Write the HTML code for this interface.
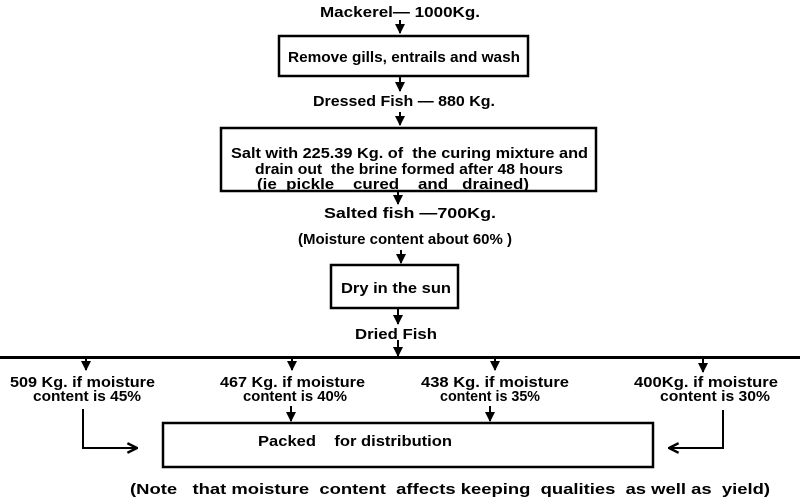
<!DOCTYPE html>
<html><head><meta charset="utf-8"><style>
html,body{margin:0;padding:0;background:#fff;}
svg{display:block}
text{font-family:"Liberation Sans",sans-serif;font-weight:bold;font-size:15px;fill:#000;white-space:pre;}
</style></head><body>
<svg width="800" height="501" viewBox="0 0 800 501" xmlns="http://www.w3.org/2000/svg" xml:space="preserve">
<defs>
<marker id="a" viewBox="0 0 10 10" refX="9" refY="5" markerWidth="5" markerHeight="5" orient="auto"><path d="M0,0 L10,5 L0,10 Z" fill="#000"/></marker>
<marker id="b" viewBox="0 0 10 10" refX="9" refY="5" markerWidth="6" markerHeight="6" orient="auto"><path d="M1,1 L9,5 L1,9" fill="none" stroke="#000" stroke-width="2"/></marker>
</defs>
<g stroke="#000" stroke-width="2" fill="none">
<line x1="400" y1="20" x2="400" y2="33" marker-end="url(#a)"/>
<rect x="279" y="36" width="249" height="40" stroke-width="2.5"/>
<line x1="400" y1="77" x2="400" y2="91" marker-end="url(#a)"/>
<line x1="400" y1="112" x2="400" y2="125" marker-end="url(#a)"/>
<rect x="221" y="128" width="375" height="63" stroke-width="2.5"/>
<line x1="398" y1="192" x2="398" y2="204" marker-end="url(#a)"/>
<line x1="401" y1="250" x2="401" y2="263" marker-end="url(#a)"/>
<rect x="331" y="265" width="127" height="43" stroke-width="2.5"/>
<line x1="398" y1="309" x2="398" y2="324" marker-end="url(#a)"/>
<line x1="398" y1="340" x2="398" y2="356" marker-end="url(#a)"/>
<line x1="0" y1="357.5" x2="800" y2="357.5" stroke-width="3"/>
<line x1="86" y1="359" x2="86" y2="370" marker-end="url(#a)"/>
<line x1="292" y1="359" x2="292" y2="370" marker-end="url(#a)"/>
<line x1="495" y1="359" x2="495" y2="370" marker-end="url(#a)"/>
<line x1="703" y1="359" x2="703" y2="372" marker-end="url(#a)"/>
<line x1="291" y1="406" x2="291" y2="421" marker-end="url(#a)"/>
<line x1="490" y1="406" x2="490" y2="421" marker-end="url(#a)"/>
<polyline points="83,409 83,448 137,448" marker-end="url(#b)"/>
<polyline points="723,410 723,448 669,448" marker-end="url(#b)"/>
<rect x="163" y="423" width="490" height="44" stroke-width="2.5"/>
</g>
<text x="320" y="17" textLength="160" lengthAdjust="spacingAndGlyphs">Mackerel— 1000Kg.</text>
<text x="288" y="62" textLength="232" lengthAdjust="spacingAndGlyphs">Remove gills, entrails and wash</text>
<text x="313" y="106" textLength="182" lengthAdjust="spacingAndGlyphs">Dressed Fish — 880 Kg.</text>
<text x="231" y="158" textLength="357" lengthAdjust="spacingAndGlyphs">Salt with 225.39 Kg. of  the curing mixture and</text>
<text x="255" y="174" textLength="308" lengthAdjust="spacingAndGlyphs">drain out  the brine formed after 48 hours</text>
<text x="257" y="189" textLength="272" lengthAdjust="spacingAndGlyphs">(ie  pickle    cured    and   drained)</text>
<text x="324" y="218" textLength="172" lengthAdjust="spacingAndGlyphs">Salted fish —700Kg.</text>
<text x="298" y="244" textLength="214" lengthAdjust="spacingAndGlyphs">(Moisture content about 60% )</text>
<text x="341" y="293" textLength="110" lengthAdjust="spacingAndGlyphs">Dry in the sun</text>
<text x="355" y="339" textLength="82" lengthAdjust="spacingAndGlyphs">Dried Fish</text>
<text x="10" y="387" textLength="145" lengthAdjust="spacingAndGlyphs">509 Kg. if moisture</text>
<text x="33" y="401" textLength="108" lengthAdjust="spacingAndGlyphs">content is 45%</text>
<text x="220" y="387" textLength="145" lengthAdjust="spacingAndGlyphs">467 Kg. if moisture</text>
<text x="243" y="401" textLength="104" lengthAdjust="spacingAndGlyphs">content is 40%</text>
<text x="421" y="387" textLength="148" lengthAdjust="spacingAndGlyphs">438 Kg. if moisture</text>
<text x="440" y="401" textLength="100" lengthAdjust="spacingAndGlyphs">content is 35%</text>
<text x="634" y="387" textLength="144" lengthAdjust="spacingAndGlyphs">400Kg. if moisture</text>
<text x="660" y="401" textLength="110" lengthAdjust="spacingAndGlyphs">content is 30%</text>
<text x="258" y="446" textLength="194" lengthAdjust="spacingAndGlyphs">Packed    for distribution</text>
<text x="130" y="494" textLength="640" lengthAdjust="spacingAndGlyphs">(Note   that moisture  content  affects keeping  qualities  as well as  yield)</text>
</svg>
</body></html>
